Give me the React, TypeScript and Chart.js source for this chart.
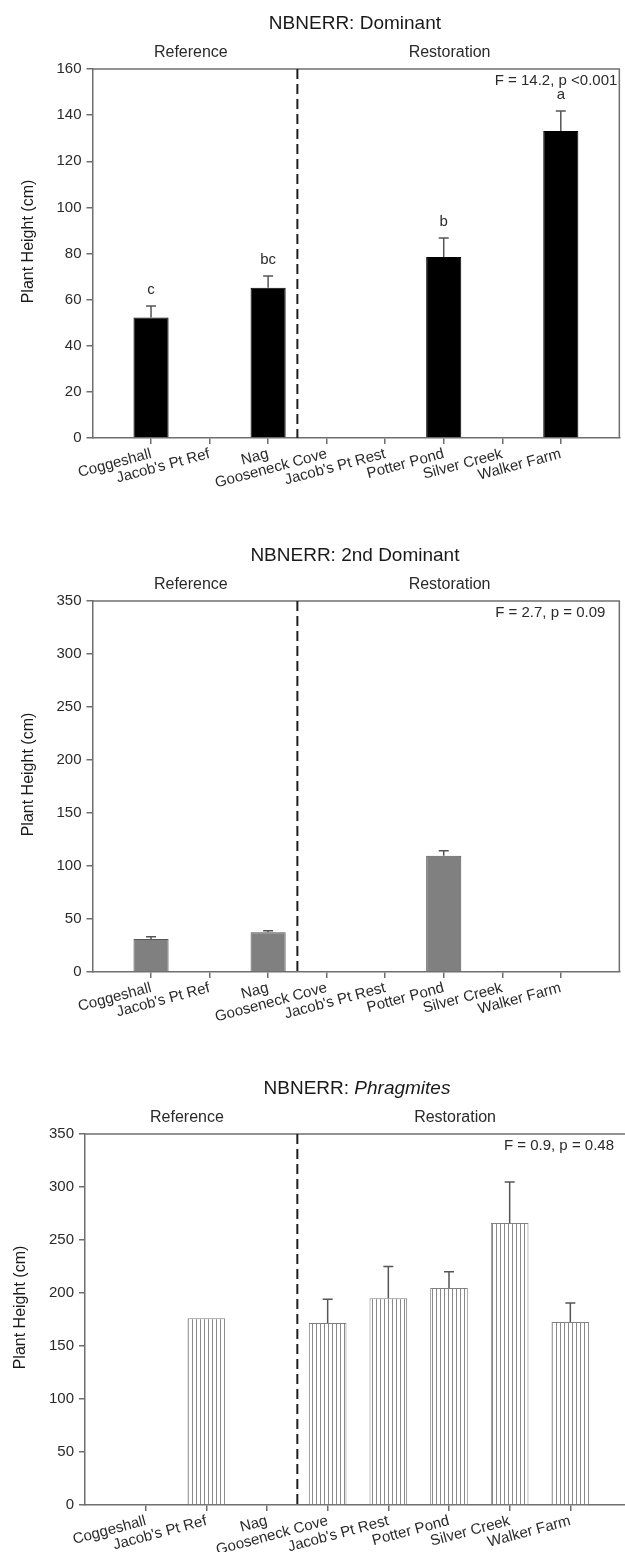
import React, { useEffect, useRef } from 'react';
import { Chart, registerables } from 'chart.js';

Chart.register(...registerables);

// ---------- data ----------
const categories = [
  'Coggeshall',
  "Jacob's Pt Ref",
  'Nag',
  'Gooseneck Cove',
  "Jacob's Pt Rest",
  'Potter Pond',
  'Silver Creek',
  'Walker Farm',
];

const dominantMeans = [52.3, null, 65.2, null, null, 78.5, null, 133.1];
const dominantErrors = [4.9, null, 5.0, null, null, 8.2, null, 8.7];
const dominantLetters = ['c', '', 'bc', '', '', 'b', '', 'a'];
const dominantStats = 'F = 14.2, p <0.001';

const secondMeans = [31.1, null, 37.4, null, null, 109.7, null, null];
const secondErrors = [2.2, null, 1.6, null, null, 4.7, null, null];
const secondStats = 'F = 2.7, p = 0.09';

const phragMeans = [null, 176.1, null, 171.7, 195.0, 204.7, 266.0, 172.6];
const phragErrors = [null, 0, null, 22.3, 30.0, 15.3, 38.7, 18.0];
const phragStats = 'F = 0.9, p = 0.48';

const groupLabels = ['Reference', 'Restoration'];
const yAxisTitle = 'Plant Height (cm)';

// ---------- styling ----------
const AXIS = '#6f6f6f';
const TEXT = '#2a2a2a';
const FONT = "'Liberation Sans', Arial, Helvetica, sans-serif";

type Spec = {
  title: { text: string; italic?: boolean }[];
  means: (number | null)[];
  errors: (number | null)[];
  letters?: string[];
  stats: string;
  statsInset: number;
  yMax: number;
  yStep: number;
  fill: 'black' | 'grey' | 'stripes';
  width: number;
  height: number;
  padTop: number;
  padRight: number;
  yAxisWidth: number;
  xAxisHeight: number;
  barPct: number;
};

function stripePattern(ctx: CanvasRenderingContext2D): CanvasPattern | string {
  const c = document.createElement('canvas');
  c.width = 4;
  c.height = 4;
  const g = c.getContext('2d');
  if (!g) return '#ffffff';
  g.fillStyle = '#ffffff';
  g.fillRect(0, 0, 4, 4);
  g.fillStyle = '#8a8a8a';
  g.fillRect(0, 0, 1, 4);
  return ctx.createPattern(c, 'repeat') || '#ffffff';
}

function makeOverlay(spec: Spec) {
  return {
    id: 'overlay',
    afterDatasetsDraw(chart: any) {
      const ctx: CanvasRenderingContext2D = chart.ctx;
      const a = chart.chartArea;
      const x = chart.scales.x;
      const y = chart.scales.y;
      const meta = chart.getDatasetMeta(0);

      ctx.save();
      // frame top + right
      ctx.strokeStyle = AXIS;
      ctx.lineWidth = 1.5;
      ctx.beginPath();
      ctx.moveTo(a.left, a.top);
      ctx.lineTo(a.right, a.top);
      ctx.lineTo(a.right, a.bottom);
      ctx.stroke();

      // dashed divider between reference and restoration sites
      const xd = x.getPixelForValue(3.5);
      ctx.strokeStyle = '#1e1e1e';
      ctx.lineWidth = 2;
      ctx.setLineDash([10, 5]);
      ctx.beginPath();
      ctx.moveTo(xd, a.top);
      ctx.lineTo(xd, a.bottom);
      ctx.stroke();
      ctx.setLineDash([]);

      // error bars + letters
      ctx.strokeStyle = '#555555';
      ctx.lineWidth = 1.5;
      spec.means.forEach((m, i) => {
        if (m === null) return;
        const el = meta.data[i + 1];
        if (!el) return;
        const err = spec.errors[i] || 0;
        const topPx = y.getPixelForValue(m);
        const capPx = y.getPixelForValue(m + err);
        if (err > 0) {
          ctx.beginPath();
          ctx.moveTo(el.x, topPx);
          ctx.lineTo(el.x, capPx);
          ctx.moveTo(el.x - 5, capPx);
          ctx.lineTo(el.x + 5, capPx);
          ctx.stroke();
        }
        const letter = spec.letters ? spec.letters[i] : '';
        if (letter) {
          ctx.fillStyle = TEXT;
          ctx.font = `15px ${FONT}`;
          ctx.textAlign = 'center';
          ctx.textBaseline = 'middle';
          ctx.fillText(letter, el.x, capPx - 16);
        }
      });

      // title
      ctx.fillStyle = '#1a1a1a';
      ctx.textBaseline = 'middle';
      ctx.textAlign = 'left';
      const parts = spec.title.map((p) => ({
        ...p,
        font: `${p.italic ? 'italic ' : ''}19px ${FONT}`,
      }));
      let total = 0;
      const widths = parts.map((p) => {
        ctx.font = p.font;
        const w = ctx.measureText(p.text).width;
        total += w;
        return w;
      });
      let tx = (a.left + a.right) / 2 - 1 - total / 2;
      parts.forEach((p, k) => {
        ctx.font = p.font;
        ctx.fillText(p.text, tx, a.top - 45);
        tx += widths[k];
      });

      // group labels
      ctx.font = `16px ${FONT}`;
      ctx.fillStyle = TEXT;
      ctx.textAlign = 'center';
      ctx.fillText(groupLabels[0], x.getPixelForValue(1.68), a.top - 16);
      ctx.fillText(groupLabels[1], x.getPixelForValue(6.1), a.top - 16);

      // stats
      ctx.font = `15px ${FONT}`;
      ctx.textAlign = 'right';
      ctx.fillText(spec.stats, a.right - spec.statsInset, a.top + 12);

      // y axis title
      ctx.save();
      ctx.translate(a.left - 64, (a.top + a.bottom) / 2 - 12);
      ctx.rotate(-Math.PI / 2);
      ctx.font = `16px ${FONT}`;
      ctx.textAlign = 'center';
      ctx.fillStyle = '#1a1a1a';
      ctx.fillText(yAxisTitle, 0, 0);
      ctx.restore();

      ctx.restore();
    },
  };
}

function buildChart(canvas: HTMLCanvasElement, spec: Spec) {
  const ctx = canvas.getContext('2d') as CanvasRenderingContext2D;
  const fill =
    spec.fill === 'black' ? '#000000' : spec.fill === 'grey' ? '#808080' : stripePattern(ctx);
  const border = spec.fill === 'black' ? '#000000' : spec.fill === 'grey' ? '#555555' : '#808080';
  const lastIdx = categories.length + 1;
  return new Chart(canvas, {
    type: 'bar',
    data: {
      labels: ['', ...categories, ''],
      datasets: [
        {
          data: [null, ...spec.means, null] as any,
          backgroundColor: fill as any,
          borderColor: border,
          borderWidth: 1,
          barPercentage: 1,
          categoryPercentage: spec.barPct,
        },
      ],
    },
    options: {
      responsive: false,
      animation: false,
      devicePixelRatio: 1,
      layout: { padding: { top: spec.padTop, right: spec.padRight, left: 0, bottom: 0 } },
      plugins: {
        legend: { display: false },
        tooltip: { enabled: false },
        title: { display: false },
      },
      scales: {
        x: {
          type: 'category',
          offset: false,
          grid: {
            offset: false,
            drawOnChartArea: false,
            drawTicks: true,
            tickLength: 6,
            lineWidth: 1.5,
            color: (c: any) => (c.index === 0 || c.index === lastIdx ? 'rgba(0,0,0,0)' : AXIS),
          },
          border: { color: AXIS, width: 1.5 },
          ticks: {
            autoSkip: false,
            minRotation: 15,
            maxRotation: 15,
            padding: 1,
            color: TEXT,
            font: { size: 15, family: FONT },
          },
          afterFit: (s: any) => {
            s.height = spec.xAxisHeight;
          },
        },
        y: {
          min: 0,
          max: spec.yMax,
          grid: { drawOnChartArea: false, tickLength: 6, lineWidth: 1.5, color: AXIS },
          border: { color: AXIS, width: 1.5 },
          ticks: {
            stepSize: spec.yStep,
            padding: 5,
            color: TEXT,
            font: { size: 15, family: FONT },
          },
          afterFit: (s: any) => {
            s.width = spec.yAxisWidth;
          },
        },
      },
    } as any,
    plugins: [makeOverlay(spec)],
  });
}

const specs: Spec[] = [
  {
    title: [{ text: 'NBNERR: Dominant' }],
    means: dominantMeans,
    errors: dominantErrors,
    letters: dominantLetters,
    stats: dominantStats,
    statsInset: 2,
    yMax: 160,
    yStep: 20,
    fill: 'black',
    width: 625,
    height: 532,
    padTop: 69,
    padRight: 2.5,
    yAxisWidth: 92.5,
    xAxisHeight: 94,
    barPct: 0.6,
  },
  {
    title: [{ text: 'NBNERR: 2nd Dominant' }],
    means: secondMeans,
    errors: secondErrors,
    stats: secondStats,
    statsInset: 14,
    yMax: 350,
    yStep: 50,
    fill: 'grey',
    width: 625,
    height: 532,
    padTop: 69,
    padRight: 2.5,
    yAxisWidth: 92.5,
    xAxisHeight: 92,
    barPct: 0.6,
  },
  {
    title: [{ text: 'NBNERR: ' }, { text: 'Phragmites', italic: true }],
    means: phragMeans,
    errors: phragErrors,
    stats: phragStats,
    statsInset: 17,
    yMax: 350,
    yStep: 50,
    fill: 'stripes',
    width: 640,
    height: 488,
    padTop: 70,
    padRight: 9,
    yAxisWidth: 85,
    xAxisHeight: 47,
    barPct: 0.62,
  },
];

function Panel({ spec }: { spec: Spec }) {
  const ref = useRef<HTMLCanvasElement | null>(null);
  useEffect(() => {
    if (!ref.current) return;
    const chart = buildChart(ref.current, spec);
    return () => chart.destroy();
  }, [spec]);
  return (
    <canvas
      ref={ref}
      width={spec.width}
      height={spec.height}
      style={{ display: 'block', width: spec.width, height: spec.height }}
    />
  );
}

export default function App() {
  return (
    <div
      style={{
        position: 'absolute',
        left: 0,
        top: 0,
        width: 625,
        height: 1552,
        overflow: 'hidden',
        background: '#ffffff',
      }}
    >
      {specs.map((s, i) => (
        <Panel key={i} spec={s} />
      ))}
    </div>
  );
}
